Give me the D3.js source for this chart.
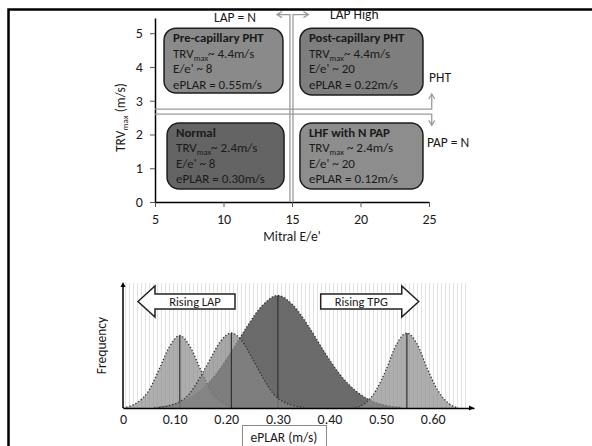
<!DOCTYPE html>
<html>
<head>
<meta charset="utf-8">
<script src="https://cdn.jsdelivr.net/npm/d3@7"></script>
<style>
  body { margin: 0; background: #fff; }
  svg { display: block; }
  text { font-family: Carlito, Lato, "Liberation Sans", sans-serif; fill: #1a1a1a; }
</style>
</head>
<body>
<svg id="chart" width="592" height="446"></svg>
<script>
// ---- top panel: TRVmax vs mitral E/e' quadrants ----
const eeTicks = [5, 10, 15, 20, 25];
const trvTicks = [0, 1, 2, 3, 4, 5];
const boxTitles = ["Pre-capillary PHT", "Post-capillary PHT", "Normal", "LHF with N PAP"];
const boxTrv = ["~ 4.4m/s", "~ 4.4m/s", "~ 2.4m/s", " ~ 2.4m/s"];
const boxEe = ["E/e' ~ 8", "E/e' ~ 20", "E/e' ~ 8", "E/e' ~ 20"];
const boxEplar = ["ePLAR = 0.55m/s", "ePLAR = 0.22m/s", "ePLAR = 0.30m/s", "ePLAR = 0.12m/s"];
const boxFills = ["#8a8a8a", "#7e7e7e", "#646464", "#8d8d8d"];
// box extents in data units [x0, x1, y0, y1]
const boxExtents = [[5.66, 14.34, 3.23, 5.15], [15.58, 24.56, 3.17, 5.15],
                    [5.88, 14.42, 0.385, 2.34], [15.58, 24.56, 0.385, 2.34]];

// ---- bottom panel: ePLAR distributions ----
const eplarTicks = [0, 0.1, 0.2, 0.3, 0.4, 0.5, 0.6];
const normalCurve = [[0.06, 0.005], [0.09, 0.02], [0.12, 0.06], [0.15, 0.14], [0.18, 0.27],
  [0.21, 0.45], [0.24, 0.65], [0.27, 0.82], [0.30, 0.9], [0.33, 0.82], [0.36, 0.65],
  [0.39, 0.45], [0.42, 0.27], [0.45, 0.14], [0.48, 0.06], [0.51, 0.02], [0.54, 0.005]];
const lhfCurve = [[0.0, 0.0], [0.01, 0.01], [0.03, 0.05], [0.05, 0.14], [0.07, 0.31], [0.09, 0.49],
  [0.11, 0.58], [0.13, 0.49], [0.15, 0.31], [0.17, 0.14], [0.19, 0.05], [0.21, 0.01], [0.23, 0.0]];
const postCurve = [[0.07, 0.005], [0.09, 0.02], [0.11, 0.05], [0.13, 0.12], [0.15, 0.25],
  [0.17, 0.40], [0.19, 0.54], [0.21, 0.6], [0.23, 0.54], [0.25, 0.40], [0.27, 0.25],
  [0.29, 0.12], [0.31, 0.05], [0.33, 0.02], [0.35, 0.005]];
const preCurve = [[0.45, 0.0], [0.47, 0.04], [0.49, 0.14], [0.51, 0.31], [0.53, 0.51],
  [0.55, 0.6], [0.57, 0.51], [0.59, 0.31], [0.61, 0.14], [0.63, 0.04], [0.65, 0.0]];
const curveMeans = [0.30, 0.11, 0.21, 0.55];

const svg = d3.select("#chart");

// frame
svg.append("rect")
    .attr("x", 8.5).attr("y", 9.5).attr("width", 620).attr("height", 460)
    .attr("fill", "none").attr("stroke", "#000").attr("stroke-width", 2.5);

// ===== top panel =====
let x = d3.scaleLinear().domain([5, 25]).range([155, 429]);
let y = d3.scaleLinear().domain([0, 5.45]).range([202, 18]);

let gx = svg.append("g").attr("transform", "translate(0," + y(0) + ")")
    .call(d3.axisBottom(x).tickValues(eeTicks).tickSize(5).tickSizeOuter(0));
let gy = svg.append("g").attr("transform", "translate(" + x(5) + ",0)")
    .call(d3.axisLeft(y).tickValues(trvTicks).tickFormat(d3.format("d")).tickSize(5).tickSizeOuter(0));
[gx, gy].forEach(function (g) {
    g.select(".domain").attr("stroke", "#000").attr("stroke-width", 1.5);
    g.selectAll(".tick line").attr("stroke", "#555");
    g.selectAll(".tick text").style("font-size", "14px").attr("fill", "#222");
});
gx.selectAll(".tick text").attr("dy", "1.0em");
gy.selectAll(".tick text").attr("dx", "-0.3em");

svg.append("text").attr("x", x(15)).attr("y", 241)
    .attr("text-anchor", "middle").style("font-size", "13.5px").text("Mitral E/e'");
let yl = svg.append("text").attr("transform", "translate(125," + y(2.5) + ") rotate(-90)")
    .attr("text-anchor", "middle").style("font-size", "13.5px");
yl.append("tspan").text("TRV");
yl.append("tspan").attr("dy", 3).style("font-size", "9px").text("max");
yl.append("tspan").attr("dy", -3).text(" (m/s)");

// quadrant divider lines
const lineCol = "#9a9a9a";
let arrowHead = function (px, py, dir) {
    let s = 5;
    let pts;
    if (dir === "up") pts = [[px - s * 0.6, py + s], [px, py], [px + s * 0.6, py + s]];
    if (dir === "down") pts = [[px - s * 0.6, py - s], [px, py], [px + s * 0.6, py - s]];
    if (dir === "left") pts = [[px + s, py - s * 0.6], [px, py], [px + s, py + s * 0.6]];
    if (dir === "right") pts = [[px - s, py - s * 0.6], [px, py], [px - s, py + s * 0.6]];
    svg.append("path").attr("d", d3.line()(pts))
        .attr("fill", "none").attr("stroke", lineCol).attr("stroke-width", 1.2);
};
let seg = function (pts) {
    svg.append("path").attr("d", d3.line()(pts))
        .attr("fill", "none").attr("stroke", lineCol).attr("stroke-width", 1.3);
};
// horizontal pair -> PHT up / PAP down
seg([[x(5), y(2.75)], [x(25.2), y(2.75)], [x(25.2), y(3.2)]]);
arrowHead(x(25.2), y(3.2), "up");
seg([[x(5), y(2.6)], [x(25.2), y(2.6)], [x(25.2), y(2.27)]]);
arrowHead(x(25.2), y(2.27), "down");
// vertical pair -> LAP N left / LAP high right
seg([[x(14.85), y(0)], [x(14.85), y(5.55)], [x(13.9), y(5.55)]]);
arrowHead(x(13.9), y(5.55), "left");
seg([[x(15.07), y(0)], [x(15.07), y(5.55)], [x(16.2), y(5.55)]]);
arrowHead(x(16.2), y(5.55), "right");

svg.append("text").attr("x", 235).attr("y", 22).attr("text-anchor", "middle")
    .style("font-size", "13.5px").text("LAP = N");
svg.append("text").attr("x", 330).attr("y", 19)
    .style("font-size", "13.5px").text("LAP High");
svg.append("text").attr("x", 429).attr("y", 82)
    .style("font-size", "13.5px").text("PHT");
svg.append("text").attr("x", 427).attr("y", 147)
    .style("font-size", "13.5px").text("PAP = N");

// quadrant boxes
boxTitles.forEach(function (title, i) {
    let e = boxExtents[i];
    let bx0 = x(e[0]), bx1 = x(e[1]), by0 = y(e[3]), by1 = y(e[2]);
    let g = svg.append("g");
    g.append("rect").attr("x", bx0).attr("y", by0)
        .attr("width", bx1 - bx0).attr("height", by1 - by0)
        .attr("rx", 12).attr("ry", 12)
        .attr("fill", boxFills[i]).attr("stroke", "#1e1e1e").attr("stroke-width", 1.5);
    let tx = bx0 + 9;
    g.append("text").attr("x", tx).attr("y", by0 + 14)
        .style("font-size", "12.8px").style("font-weight", "bold").text(title);
    let t = g.append("text").attr("x", tx).attr("y", by0 + 29.5).style("font-size", "13px");
    t.append("tspan").text("TRV");
    t.append("tspan").attr("dy", 3).style("font-size", "8.5px").text("max");
    t.append("tspan").attr("dy", -3).text(boxTrv[i]);
    g.append("text").attr("x", tx).attr("y", by0 + 45)
        .style("font-size", "13px").text(boxEe[i]);
    g.append("text").attr("x", tx).attr("y", by0 + 60.5)
        .style("font-size", "13px").text(boxEplar[i]);
});

// ===== bottom panel =====
let bx = d3.scaleLinear().domain([0, 0.68]).range([123, 474]);
let by = d3.scaleLinear().domain([0, 1]).range([408, 283]);

// striped background
let defs = svg.append("defs");
let pat = defs.append("pattern").attr("id", "stripes")
    .attr("patternUnits", "userSpaceOnUse").attr("width", 4).attr("height", 10);
pat.append("rect").attr("width", 4).attr("height", 10).attr("fill", "#fff");
pat.append("line").attr("x1", 1.5).attr("x2", 1.5).attr("y1", 0).attr("y2", 10)
    .attr("stroke", "#e2e2e2").attr("stroke-width", 1);
svg.append("rect").attr("x", bx(0) + 1).attr("y", by(1))
    .attr("width", bx(0.67) - bx(0) - 1).attr("height", by(0) - by(1))
    .attr("fill", "url(#stripes)");

let area = d3.area().x(function (d) { return bx(d[0]); })
    .y0(by(0)).y1(function (d) { return by(d[1]); })
    .curve(d3.curveMonotoneX);
let outline = d3.line().x(function (d) { return bx(d[0]); })
    .y(function (d) { return by(d[1]); })
    .curve(d3.curveMonotoneX);

let curves = [normalCurve, lhfCurve, postCurve, preCurve];
let curveFill = ["#5e5e5e", "#8c8c8c", "#858585", "#8c8c8c"];
let curveOpacity = [0.92, 0.7, 0.72, 0.7];
curves.forEach(function (c, i) {
    svg.append("path").attr("d", area(c))
        .attr("fill", curveFill[i]).attr("fill-opacity", curveOpacity[i]);
    svg.append("path").attr("d", outline(c))
        .attr("fill", "none").attr("stroke", "#333").attr("stroke-width", 1.3)
        .attr("stroke-dasharray", "1.3,2");
    let peak = d3.max(c, function (d) { return d[1]; });
    svg.append("line")
        .attr("x1", bx(curveMeans[i])).attr("x2", bx(curveMeans[i]))
        .attr("y1", by(0)).attr("y2", by(peak))
        .attr("stroke", "#333").attr("stroke-width", 1.2);
});

// axes with arrow tips
let bgx = svg.append("g").attr("transform", "translate(0," + by(0) + ")")
    .call(d3.axisBottom(bx).tickValues(eplarTicks).tickSize(0).tickSizeOuter(0)
        .tickFormat(function (d) { return d === 0 ? "0" : d3.format(".2f")(d); }));
bgx.select(".domain").attr("stroke", "#000").attr("stroke-width", 1.5);
bgx.selectAll(".tick text").style("font-size", "14px").attr("fill", "#222").attr("dy", "0.9em");
svg.append("line").attr("x1", bx(0)).attr("x2", bx(0)).attr("y1", by(0)).attr("y2", by(1) + 2)
    .attr("stroke", "#000").attr("stroke-width", 1.5);
svg.append("path").attr("d", d3.line()([[bx(0) - 2.5, by(1) + 4], [bx(0), by(1) - 1], [bx(0) + 2.5, by(1) + 4]]) + "Z")
    .attr("fill", "#000");
svg.append("path").attr("d", d3.line()([[bx(0.68) - 5, by(0) - 2.5], [bx(0.68), by(0)], [bx(0.68) - 5, by(0) + 2.5]]) + "Z")
    .attr("fill", "#000");

svg.append("text").attr("transform", "translate(106," + by(0.5) + ") rotate(-90)")
    .attr("text-anchor", "middle").style("font-size", "13.5px").text("Frequency");

// block arrows
let blockArrow = function (tipX, baseX, endX, cy, label) {
    let tx = bx(tipX), hx = bx(baseX), ex = bx(endX), c = by(cy);
    let pts = [[tx, c], [hx, c - 15.5], [hx, c - 7.5], [ex, c - 7.5],
               [ex, c + 7.5], [hx, c + 7.5], [hx, c + 15.5]];
    svg.append("path").attr("d", d3.line()(pts) + "Z")
        .attr("fill", "#fff").attr("stroke", "#222").attr("stroke-width", 1.5);
    svg.append("text").attr("x", (hx + ex) / 2).attr("y", c + 4.5)
        .attr("text-anchor", "middle").style("font-size", "12.5px").text(label);
};
blockArrow(0.029, 0.062, 0.217, 0.852, "Rising LAP");
blockArrow(0.573, 0.54, 0.383, 0.852, "Rising TPG");

// x label box
svg.append("rect").attr("x", 242.5).attr("y", 425.5).attr("width", 84).attr("height", 30)
    .attr("fill", "#fff").attr("stroke", "#8a8a8a").attr("stroke-width", 1);
svg.append("text").attr("x", 284).attr("y", 441.5).attr("text-anchor", "middle")
    .style("font-size", "13.5px").text("ePLAR (m/s)");
</script>
</body>
</html>
